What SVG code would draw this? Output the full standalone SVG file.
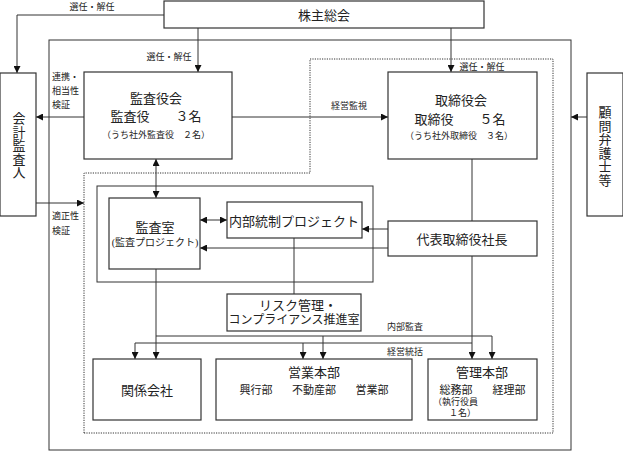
<svg xmlns="http://www.w3.org/2000/svg" width="623" height="452" viewBox="0 0 623 452">
<style>
.b{fill:#fff;stroke:#333;stroke-width:1.2}
.l{fill:none;stroke:#333;stroke-width:1}
.d{fill:none;stroke:#333;stroke-width:1;stroke-dasharray:1.2 1.2}
text{font-family:"Liberation Serif","Noto Sans CJK JP",serif;fill:#222}
.m{text-anchor:middle}
.f13{font-size:13px}
.f11{font-size:11px}
.f10{font-size:10px}
.f9{font-size:9px}
.v{font-size:13px;writing-mode:vertical-rl;letter-spacing:0.5px}
</style>
<defs>
<marker id="ah" viewBox="0 0 10 10" refX="10" refY="5" markerWidth="7" markerHeight="7" markerUnits="userSpaceOnUse" orient="auto-start-reverse">
<path d="M0,0 L10,5 L0,10 z" fill="#111"/>
</marker>
</defs>
<rect width="623" height="452" fill="#fff"/>
<g id="frames">
<rect class="l" x="49" y="40" width="522" height="410"/>
<path class="d" d="M84,433 V173 H310 V59 H553 V433 Z"/>
<rect class="l" x="97" y="186" width="276" height="96"/>
</g>
<g id="connectors" class="l">
<path d="M164,15 H17 V73" marker-end="url(#ah)"/>
<path d="M198,28 V72" marker-end="url(#ah)"/>
<path d="M451,28 V72" marker-end="url(#ah)"/>
<path d="M84,117 H36" marker-end="url(#ah)"/>
<path d="M232,117 H388" marker-end="url(#ah)"/>
<path d="M587,117 H571" marker-end="url(#ah)"/>
<path d="M472,159 V221"/>
<path d="M36,203 H84" marker-end="url(#ah)"/>
<path d="M156,159 V198" marker-start="url(#ah)" marker-end="url(#ah)"/>
<path d="M200,220 H227" marker-start="url(#ah)" marker-end="url(#ah)"/>
<path d="M388,229 H362" marker-end="url(#ah)"/>
<path d="M388,248 H200" marker-end="url(#ah)"/>
<path d="M294,238 V294"/>
<path d="M156,269 V359" marker-end="url(#ah)"/>
<path d="M156,336 H492 V359" marker-end="url(#ah)"/>
<path d="M323,336 V359" marker-end="url(#ah)"/>
<path d="M472,256 V359" marker-end="url(#ah)"/>
<path d="M472,343 H135 V359" marker-end="url(#ah)"/>
<path d="M303,343 V359" marker-end="url(#ah)"/>
</g>
<g id="labels" class="f9">
<text class="m" x="92" y="10">選任・解任</text>
<text class="m" x="169" y="60">選任・解任</text>
<text class="m" x="482" y="70">選任・解任</text>
<text x="52" y="80">連携・</text>
<text x="52" y="94">相当性</text>
<text x="52" y="108">検証</text>
<text class="m" x="349" y="109">経営監視</text>
<text x="52" y="219">適正性</text>
<text x="52" y="234">検証</text>
<text class="m" x="405" y="330">内部監査</text>
<text class="m" x="405" y="355">経営統括</text>
</g>
<g id="kabunushi">
<rect class="b" x="164" y="1" width="320" height="27"/>
<text class="m f13" x="324" y="20">株主総会</text>
</g>
<g id="kaikei">
<rect class="b" x="0" y="73" width="36" height="143"/>
<text class="v" x="18" y="112">会計監査人</text>
</g>
<g id="kansayakukai">
<rect class="b" x="84" y="72" width="148" height="87"/>
<text class="m f13" x="156" y="103">監査役会</text>
<text class="m f13" x="156" y="121">監査役　　３名</text>
<text class="m f9" x="156" y="138">（うち社外監査役　２名）</text>
</g>
<g id="torishimariyakukai">
<rect class="b" x="388" y="72" width="149" height="87"/>
<text class="m f13" x="461" y="105">取締役会</text>
<text class="m f13" x="460" y="124">取締役　　５名</text>
<text class="m f9" x="459" y="139">（うち社外取締役　３名）</text>
</g>
<g id="komon">
<rect class="b" x="587" y="73" width="36" height="143"/>
<text class="v" x="604" y="106">顧問弁護士等</text>
</g>
<g id="shacho">
<rect class="b" x="388" y="221" width="149" height="35"/>
<text class="m f13" x="462" y="244">代表取締役社長</text>
</g>
<g id="kansashitsu">
<rect class="b" x="109" y="198" width="91" height="71"/>
<text class="m f13" x="155" y="232">監査室</text>
<text class="m f10" x="155" y="246">(監査プロジェクト)</text>
</g>
<g id="naibutousei">
<rect class="b" x="227" y="202" width="135" height="36"/>
<text class="m f13" x="294" y="226">内部統制プロジェクト</text>
</g>
<g id="risk">
<rect class="b" x="227" y="294" width="134" height="37"/>
<text class="m f13" x="298" y="310">リスク管理・</text>
<text class="m" x="294" y="324" style="font-size:12px">コンプライアンス推進室</text>
</g>
<g id="kankei">
<rect class="b" x="93" y="359" width="108" height="61"/>
<text class="m f13" x="147" y="395">関係会社</text>
</g>
<g id="eigyo">
<rect class="b" x="216" y="359" width="196" height="61"/>
<text class="m f13" x="314" y="377">営業本部</text>
<text class="m f11" x="256" y="394">興行部</text>
<text class="m f11" x="314" y="394">不動産部</text>
<text class="m f11" x="372" y="394">営業部</text>
</g>
<g id="kanri">
<rect class="b" x="428" y="359" width="109" height="61"/>
<text class="m f13" x="482" y="377">管理本部</text>
<text class="m f11" x="456" y="394">総務部</text>
<text class="m f11" x="509" y="394">経理部</text>
<text class="f9" x="433" y="405">（執行役員</text>
<text class="f9" x="449" y="416">１名）</text>
</g>
</svg>
